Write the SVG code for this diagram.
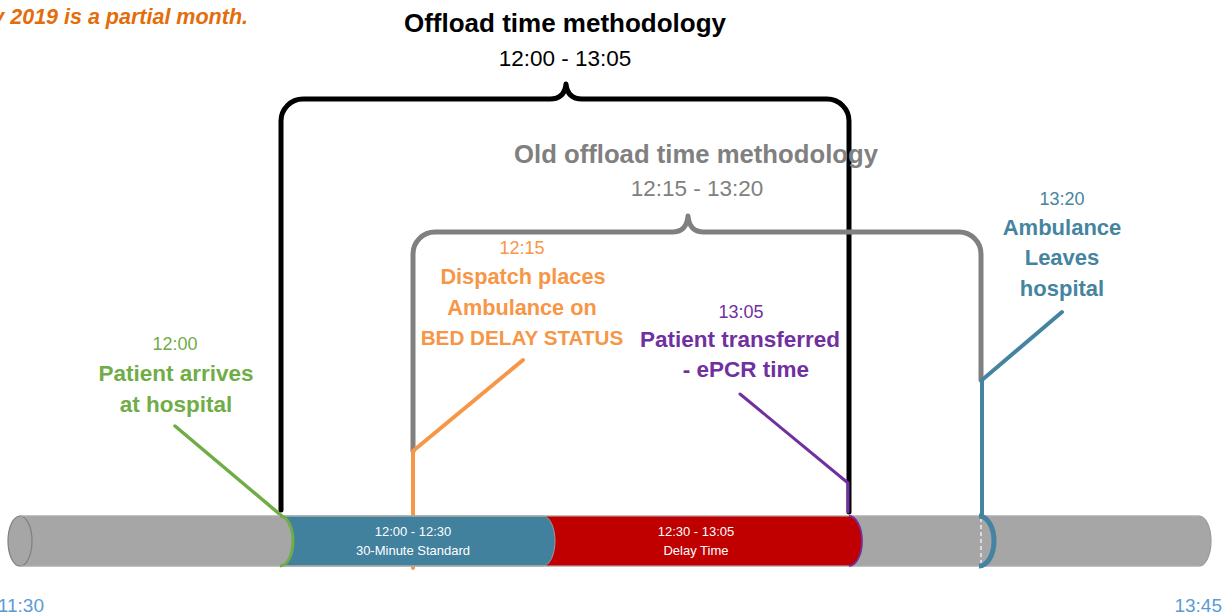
<svg xmlns="http://www.w3.org/2000/svg" width="1225" height="616" viewBox="0 0 1225 616">
<style>
text{font-family:"Liberation Sans",Arial,sans-serif;text-anchor:middle}
.b{font-weight:bold}
.brace{fill:none;stroke-width:5;stroke-linecap:round;stroke-linejoin:round}
.lead{fill:none;stroke-linecap:round;stroke-linejoin:round}
.seg{font-size:13px;fill:#fff}
.ax{font-size:19px;fill:#5B9BD5}
.tm{font-size:18px}
</style>
<rect width="1225" height="616" fill="#fff"/>
<text class="b" x="248" y="24" style="text-anchor:end;font-size:21.5px;font-style:italic;fill:#E46C0A">y 2019 is a partial month.</text>

<g id="offload-method">
<text class="b" x="565" y="32" style="font-size:26px;fill:#000">Offload time methodology</text>
<text x="565" y="66" style="font-size:22.5px;fill:#000">12:00 - 13:05</text>
<path class="brace" stroke="#000" d="M281,510 V121 A22,22 0 0 1 303,99 H550 C560,99 565,94 566,84 C567,94 572,99 582,99 H827 A22,22 0 0 1 849,121 V512"/>
</g>

<g id="old-method">
<path class="brace" stroke="#808080" d="M413,451 V254 A22,22 0 0 1 435,232 H672 C682,232 687,227 688,216 C689,227 694,232 704,232 H959 A22,22 0 0 1 981,254 V380"/>
<text class="b" x="696" y="163" style="font-size:25.7px;fill:#808080">Old offload time methodology</text>
<text x="697" y="196" style="font-size:22.5px;fill:#808080">12:15 - 13:20</text>
</g>

<g id="connectors">
<path class="lead" stroke="#70AD47" stroke-width="3.5" d="M175,426 L283,517"/>
<path class="lead" stroke="#F79646" stroke-width="4" d="M523,360 L413,451 V568"/>
<path class="lead" stroke="#7030A0" stroke-width="3" d="M740,394 L848,483 V512"/>
<path class="lead" stroke="#4584A1" stroke-width="4" d="M1062,312 L982,380 V514"/>
</g>

<g id="timeline">
<path d="M20,516 H1199 A12,25 0 0 1 1199,566 H20 Z" fill="#A6A6A6" stroke="#9a9a9a" stroke-width="1.2"/>
<ellipse cx="20" cy="541" rx="12" ry="25" fill="#A6A6A6" stroke="#7f7f7f" stroke-width="1.2"/>
<path d="M540,516 H850 A12,25 0 0 1 850,566 H540 Z" fill="#C00000"/>
<path d="M280,516 H543 A12,25 0 0 1 543,566 H280 A13,25 0 0 0 280,516 Z" fill="#41819E" stroke="#9a9a9a" stroke-width="1"/>
<path d="M20,516 H1199 M20,566 H1199" stroke="#b5b5b5" stroke-width="1.2" fill="none"/>
<path d="M849,516 A13,25 0 0 1 849,566" fill="none" stroke="#7030A0" stroke-width="1.8"/>
<path d="M280,516 A13,25 0 0 1 280,566" fill="none" stroke="#70AD47" stroke-width="3"/>
<line x1="981" y1="518" x2="981" y2="564" stroke="#fff" stroke-width="1.2" stroke-dasharray="4,3"/>
<path d="M979,516 A15,25 0 0 1 979,566" fill="none" stroke="#4584A1" stroke-width="5"/>
<text class="seg" x="413" y="536">12:00 - 12:30</text>
<text class="seg" x="413" y="555">30-Minute Standard</text>
<text class="seg" x="696" y="536">12:30 - 13:05</text>
<text class="seg" x="696" y="555">Delay Time</text>
<text class="ax" x="44" y="612" style="text-anchor:end">11:30</text>
<text class="ax" x="1222" y="612" style="text-anchor:end">13:45</text>
</g>

<g id="patient-arrives">
<text class="tm" x="175" y="350" style="fill:#70AD47">12:00</text>
<text class="b" x="176" y="381" style="font-size:22.5px;fill:#70AD47">Patient arrives</text>
<text class="b" x="176" y="412" style="font-size:22.5px;fill:#70AD47">at hospital</text>
</g>

<g id="bed-delay">
<text class="tm" x="522" y="254" style="fill:#F79646">12:15</text>
<text class="b" x="523" y="284" style="font-size:21.7px;fill:#F79646">Dispatch places</text>
<text class="b" x="522" y="315" style="font-size:21.7px;fill:#F79646">Ambulance on</text>
<text class="b" x="522" y="345" style="font-size:20.7px;fill:#F79646">BED DELAY STATUS</text>
</g>

<g id="patient-transferred">
<text class="tm" x="741" y="318" style="fill:#7030A0">13:05</text>
<text class="b" x="740" y="347" style="font-size:22.5px;fill:#7030A0">Patient transferred</text>
<text class="b" x="746" y="377" style="font-size:22.5px;fill:#7030A0">- ePCR time</text>
</g>

<g id="ambulance-leaves">
<text class="tm" x="1062" y="205" style="fill:#4584A1">13:20</text>
<text class="b" x="1062" y="235" style="font-size:22px;fill:#4584A1">Ambulance</text>
<text class="b" x="1062" y="265" style="font-size:22px;fill:#4584A1">Leaves</text>
<text class="b" x="1062" y="296" style="font-size:22px;fill:#4584A1">hospital</text>
</g>
</svg>
